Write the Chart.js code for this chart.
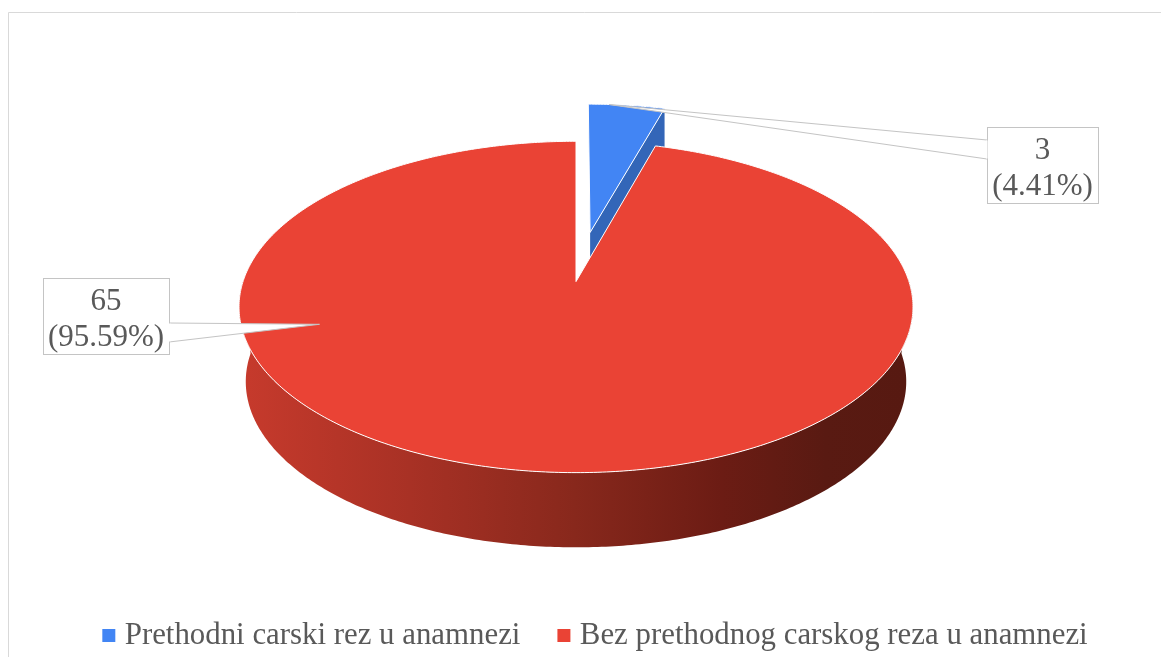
<!DOCTYPE html>
<html><head><meta charset="utf-8">
<style>html,body{margin:0;padding:0;background:#fff}canvas{display:block}</style>
<script src="https://cdn.jsdelivr.net/npm/chart.js@4/dist/chart.umd.min.js"></script>
</head><body><canvas id="c" width="1161" height="657"></canvas>
<script>
const categories = ['Prethodni carski rez u anamnezi', 'Bez prethodnog carskog reza u anamnezi'];
const counts = [3, 65];
const percentLabels = ['4.41%', '95.59%'];
const topColors = ['#4285f4', '#ea4335'];
const explode = [107, 0];

const FONT = '"Liberation Serif", "Times New Roman", serif';
const INK = '#595959';
const R = 333;
const K = 0.1531, TILT = 161.8 / 333;
const DEPTH = 74.7, BASE_SCALE = 0.98;

function project(base, u, v, bottom) {
  const w = 1 + K * v;
  const s = bottom ? BASE_SCALE : 1;
  return {
    x: base.x + R * s * u / w,
    y: base.y + (bottom ? DEPTH : 0) - R * TILT * v / w
  };
}
function drawFace(el, index, chart) {
  const ctx = chart.ctx;
  const base = {x: el.x, y: el.y};
  const a0 = el.startAngle, a1 = el.endAngle;
  const mid = (a0 + a1) / 2;
  const off = (el.options.offset || 0) / R;
  const u0 = off * Math.cos(mid), v0 = -off * Math.sin(mid);
  const steps = Math.max(8, Math.ceil((a1 - a0) * 90));
  const pts = [];
  for (let i = 0; i <= steps; i++) {
    const a = a0 + (a1 - a0) * i / steps;
    pts.push([u0 + Math.cos(a), v0 - Math.sin(a)]);
  }
  ctx.save();
  if (index === 0) {
    const last = pts[pts.length - 1];
    const a = project(base, u0, v0), b = project(base, last[0], last[1]);
    const c = project(base, last[0], last[1], true), d = project(base, u0, v0, true);
    ctx.beginPath();
    ctx.moveTo(a.x, a.y); ctx.lineTo(b.x, b.y); ctx.lineTo(b.x, c.y); ctx.lineTo(a.x, d.y);
    ctx.closePath();
    ctx.fillStyle = '#3366b8';
    ctx.fill();
  } else {
    const front = pts.filter(p => p[1] <= 0.02);
    const g = ctx.createLinearGradient(245, 0, 905, 0);
    g.addColorStop(0, '#c63a2c');
    g.addColorStop(0.25, '#a83125');
    g.addColorStop(0.5, '#88281c');
    g.addColorStop(0.72, '#6c1c14');
    g.addColorStop(0.88, '#591a12');
    g.addColorStop(1, '#571911');
    ctx.beginPath();
    front.forEach((p, i) => {
      const q = project(base, p[0], p[1]);
      i ? ctx.lineTo(q.x, q.y) : ctx.moveTo(q.x, q.y);
    });
    front.slice().reverse().forEach(p => {
      const q = project(base, p[0], p[1], true);
      ctx.lineTo(q.x, q.y);
    });
    ctx.closePath();
    ctx.fillStyle = g;
    ctx.fill();
  }
  ctx.beginPath();
  const apex = project(base, u0, v0);
  ctx.moveTo(apex.x, apex.y);
  pts.forEach(p => { const q = project(base, p[0], p[1]); ctx.lineTo(q.x, q.y); });
  ctx.closePath();
  ctx.fillStyle = el.options.backgroundColor;
  ctx.fill();
  ctx.strokeStyle = '#fff';
  ctx.lineWidth = 1;
  ctx.lineJoin = 'round';
  ctx.stroke();
  ctx.restore();
}
function callout(ctx, box, wedge, lines) {
  ctx.save();
  ctx.beginPath();
  ctx.moveTo(wedge[0][0], wedge[0][1]);
  ctx.lineTo(wedge[1][0], wedge[1][1]);
  ctx.lineTo(wedge[2][0], wedge[2][1]);
  ctx.closePath();
  ctx.fillStyle = '#fff';
  ctx.fill();
  ctx.strokeStyle = '#c4c4c4';
  ctx.lineWidth = 1;
  ctx.strokeRect(box.x + .5, box.y + .5, box.w, box.h);
  ctx.fillRect(box.x + 1, box.y + 1, box.w - 1, box.h - 1);
  ctx.beginPath();
  ctx.moveTo(wedge[0][0], wedge[0][1]);
  ctx.lineTo(wedge[1][0], wedge[1][1]);
  ctx.lineTo(wedge[2][0], wedge[2][1]);
  ctx.stroke();
  ctx.fillStyle = '#fff';
  const vx = Math.round(wedge[0][0]);
  ctx.fillRect(vx - (wedge[1][0] < vx ? 1 : 0), wedge[0][1] + .5, 1.5, wedge[2][1] - wedge[0][1] - 1);
  ctx.fillStyle = INK;
  ctx.font = '31px ' + FONT;
  ctx.textAlign = 'center';
  ctx.textBaseline = 'middle';
  lines.forEach((t, i) => ctx.fillText(t, box.x + box.w / 2, box.y + 24 + i * 36));
  ctx.restore();
}
const pie3d = {
  id: 'pie3d',
  afterLayout(chart) {
    chart.legend.left += 22;
    chart.legend.right += 22;
    chart.chartArea.top -= 7;
    chart.chartArea.bottom -= 7;
  },
  beforeDraw(chart) {
    const ctx = chart.ctx;
    ctx.save();
    ctx.fillStyle = '#fff';
    ctx.fillRect(0, 0, chart.width, chart.height);
    ctx.strokeStyle = '#d9d9d9';
    ctx.lineWidth = 1;
    ctx.beginPath();
    ctx.moveTo(8.5, chart.height);
    ctx.lineTo(8.5, 12.5);
    ctx.lineTo(chart.width, 12.5);
    ctx.stroke();
    ctx.restore();
  },
  beforeDatasetsDraw(chart) {
    chart.getDatasetMeta(0).data.forEach((el, i) => {
      el.draw = function () { drawFace(el, i, chart); };
    });
  },
  afterDatasetsDraw(chart) {
    const ctx = chart.ctx;
    callout(ctx, {x: 987, y: 127, w: 111, h: 76},
      [[987, 140], [609, 104.5], [987, 159]],
      [String(counts[0]), '(' + percentLabels[0] + ')']);
    callout(ctx, {x: 43, y: 278, w: 126, h: 76},
      [[169, 323], [319.5, 324.3], [169, 342]],
      [String(counts[1]), '(' + percentLabels[1] + ')']);
  }
};
new Chart(document.getElementById('c'), {
  type: 'pie',
  data: {
    labels: categories,
    datasets: [{
      data: counts,
      backgroundColor: topColors,
      offset: explode,
      borderWidth: 0,
      clip: false
    }]
  },
  plugins: [pie3d],
  options: {
    responsive: false,
    animation: false,
    radius: R,
    layout: {padding: {top: 0, bottom: -4, left: 0, right: 9}},
    plugins: {
      tooltip: {enabled: false},
      legend: {
        position: 'bottom',
        labels: {
          usePointStyle: true,
          pointStyle: 'rect',
          boxWidth: 1,
          boxHeight: 13,
          padding: 43,
          color: INK,
          font: {family: FONT, size: 30.85}
        }
      }
    }
  }
});
</script></body></html>
